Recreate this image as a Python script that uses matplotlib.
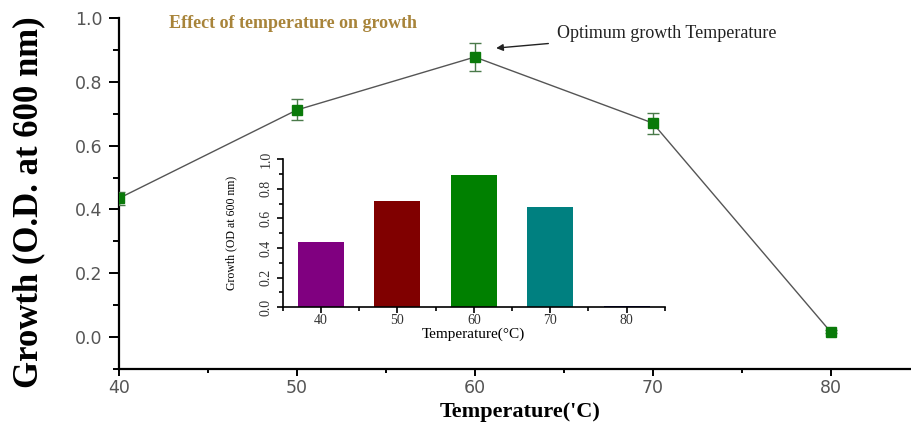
import numpy as np
import matplotlib
matplotlib.use("Agg")
import matplotlib.pyplot as plt
from matplotlib.ticker import MultipleLocator

temps = [40, 50, 60, 70, 80]
growth = [0.435, 0.712, 0.878, 0.671, 0.016]
errs = [0.02, 0.033, 0.044, 0.033, 0.005]

bar_growth = [0.44, 0.72, 0.89, 0.675, 0.005]
bar_colors = ["#800080", "#800000", "#008000", "#008080", "#000080"]

serif = "Liberation Serif"
sans = "DejaVu Sans"

fig = plt.figure(figsize=(9.12, 4.22), dpi=100)
ax = fig.add_axes([0.1305, 0.126, 0.87, 0.831])

ax.plot(temps, growth, color="#555555", lw=1.0, zorder=2)
ax.errorbar(temps, growth, yerr=errs, fmt="none", ecolor="#4a7a4a", elinewidth=1.0,
            capsize=4, capthick=1.0, zorder=3)
ax.plot(temps, growth, "s", color="#0a7a0a", ms=6.5, zorder=4)

ax.set_xlim(40, 84.6)
ax.set_ylim(-0.1, 1.0)
ax.set_xticks([40, 50, 60, 70, 80])
ax.set_yticks([0.0, 0.2, 0.4, 0.6, 0.8, 1.0])
ax.set_yticklabels(["0.0", "0.2", "0.4", "0.6", "0.8", "1.0"])
ax.xaxis.set_minor_locator(MultipleLocator(5))
ax.yaxis.set_minor_locator(MultipleLocator(0.1))
for s in ["top", "right"]:
    ax.spines[s].set_visible(False)
for s in ["left", "bottom"]:
    ax.spines[s].set_linewidth(1.6)
ax.tick_params(axis="both", which="major", length=7, width=1.4, direction="out",
               labelsize=12.5, labelcolor="#555555", labelfontfamily=sans)
ax.tick_params(axis="x", which="major", length=5, pad=2)
ax.tick_params(axis="y", which="major", pad=5)
ax.tick_params(axis="both", which="minor", length=4, width=1.4, direction="out")
ax.tick_params(axis="x", which="minor", length=3)

ax.set_ylabel("Growth (O.D. at 600 nm)", fontsize=25, fontweight="bold", family=serif)
ax.yaxis.set_label_coords(-0.093, 0.475)
ax.set_xlabel("Temperature('C)", fontsize=16, fontweight="bold", family=serif)
ax.xaxis.set_label_coords(0.505, -0.095)

ax.text(0.063, 0.985, "Effect of temperature on growth", transform=ax.transAxes,
        fontsize=13, fontweight="bold", family=serif, color="#a8843a", va="center")

ax.annotate("Optimum growth Temperature", xy=(61.2, 0.906), xytext=(64.6, 0.953),
            fontsize=13, family=serif, color="#222222", va="center",
            arrowprops=dict(arrowstyle="-|>", color="#222222", lw=1.0, mutation_scale=10,
                            shrinkA=4, shrinkB=0))

# inset bar chart
ins = fig.add_axes([0.310, 0.272, 0.419, 0.351])
ins.bar(temps, bar_growth, width=6, color=bar_colors, zorder=2)
ins.set_xlim(35, 85)
ins.set_ylim(0, 1.0)
ins.set_xticks(temps)
ins.set_yticks([0.0, 0.2, 0.4, 0.6, 0.8, 1.0])
ins.set_yticklabels(["0.0", "0.2", "0.4", "0.6", "0.8", "1.0"], rotation=90, va="center")
ins.xaxis.set_minor_locator(MultipleLocator(5))
ins.yaxis.set_minor_locator(MultipleLocator(0.1))
for s in ["top", "right"]:
    ins.spines[s].set_visible(False)
for s in ["left", "bottom"]:
    ins.spines[s].set_linewidth(1.2)
ins.tick_params(axis="both", which="major", length=4, width=1.2, direction="out",
                labelsize=10, labelcolor="#333333", labelfontfamily=serif)
ins.tick_params(axis="x", which="major", pad=1)
ins.tick_params(axis="both", which="minor", length=3, width=1.2, direction="out")
ins.set_ylabel("Growth (OD at 600 nm)", fontsize=8.5, family=serif)
ins.yaxis.set_label_coords(-0.12, 0.5)
ins.set_xlabel("Temperature(°C)", fontsize=11, family=serif)
ins.xaxis.set_label_coords(0.5, -0.135)

fig.savefig("out.png", dpi=100)
